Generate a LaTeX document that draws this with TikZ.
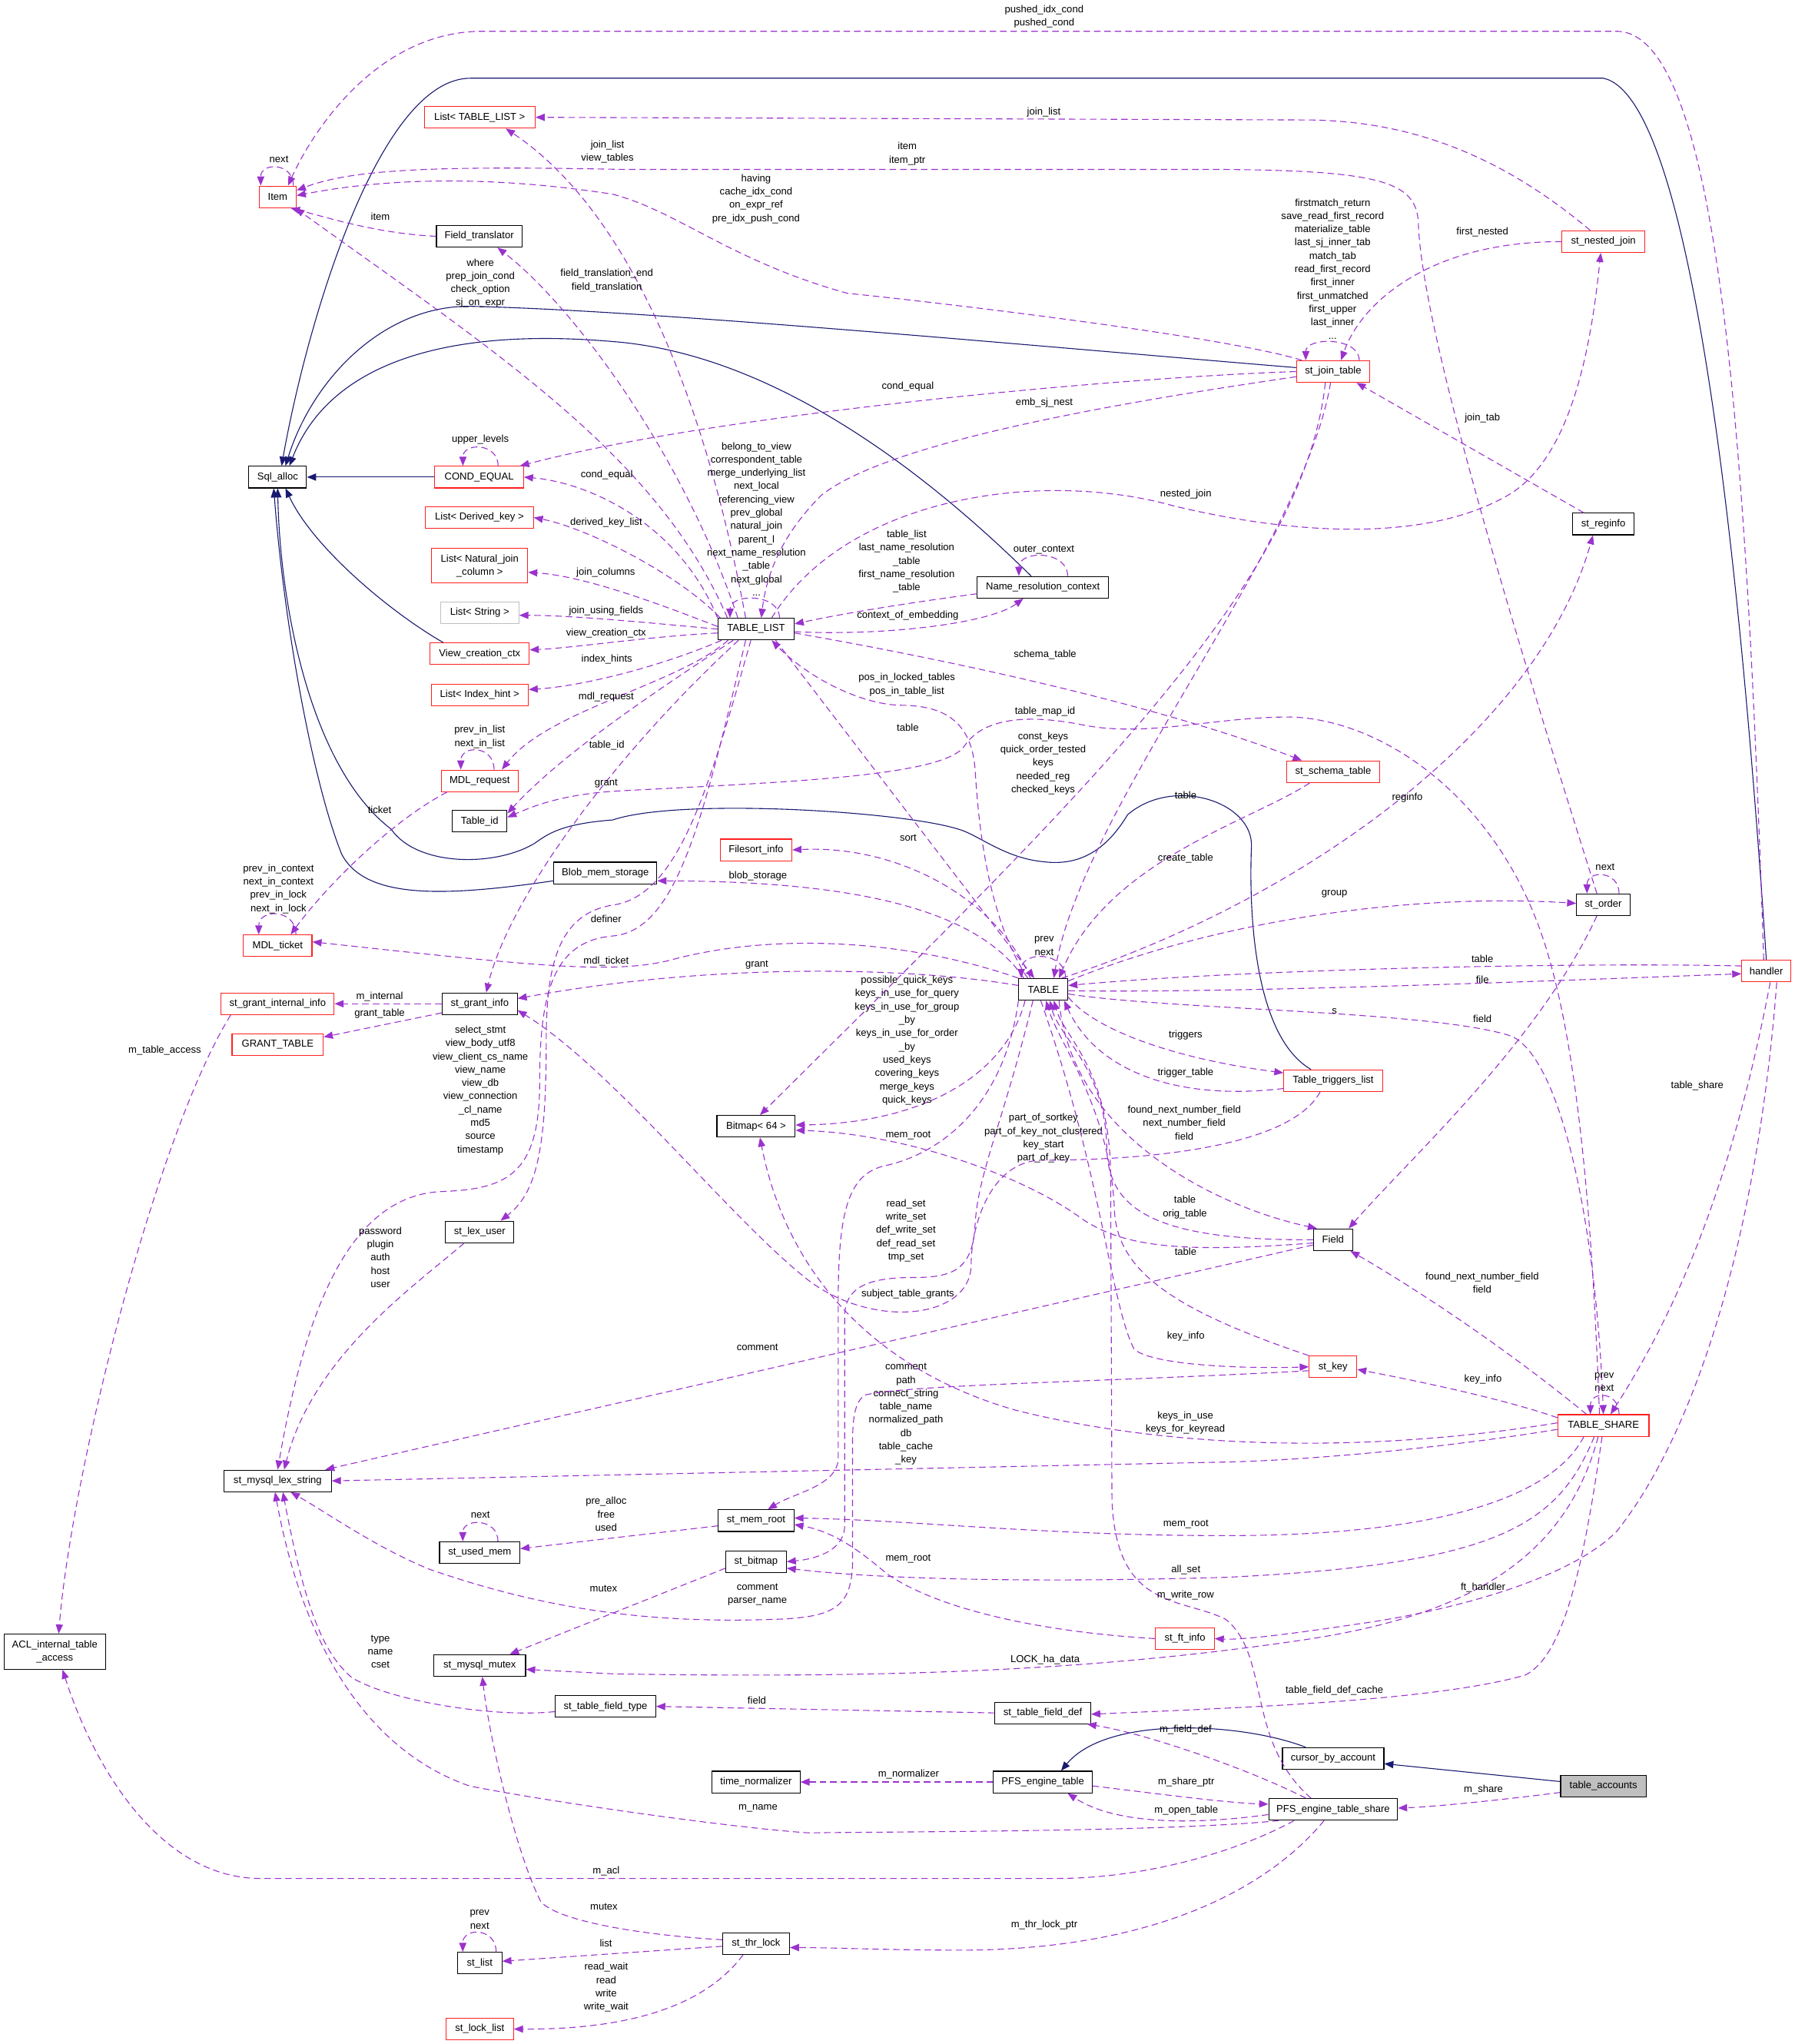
\documentclass[tikz,border=0pt]{standalone}
\usepackage{fontspec}
\setmainfont{Liberation Sans}
\usepackage{tikz}
\usetikzlibrary{arrows.meta}
\definecolor{docpurple}{HTML}{9A32CD}
\definecolor{docnavy}{HTML}{191970}
\definecolor{docred}{HTML}{FF2020}
\definecolor{docgray}{HTML}{BFBFBF}
\newcommand\dgfont{\fontsize{7.7}{10.2}\selectfont}

\begin{document}
\begin{tikzpicture}[
    x=1pt, y=-1pt,
    cls/.style={draw=black, line width=0.65pt, fill=white, font=\dgfont, inner sep=0pt, minimum height=16.6pt, align=center},
    clsred/.style={cls, draw=docred},
    clsgray/.style={cls, draw=docgray},
    clscur/.style={cls, fill=docgray},
    usage/.style={draw=docpurple, line width=0.65pt, dash pattern=on 5pt off 3pt, -{Triangle[length=7pt,width=5.5pt]}},
    inh/.style={draw=docnavy, line width=0.65pt, -{Triangle[length=7pt,width=5.5pt]}},
    lbl/.style={font=\dgfont, align=center, inner sep=0pt}
]
\useasboundingbox (0,0) rectangle (1377,1568);

% classes
\node[clsred, minimum width=28.5pt] (item) at (213,151) {Item};
\node[clsred, minimum width=85pt] (listtl) at (368,90) {List< TABLE\_LIST >};
\node[cls, minimum width=65.6pt] (ftrans) at (367.6,181.3) {Field\_translator};
\node[cls, minimum width=44.3pt] (sqlalloc) at (213,366) {Sql\_alloc};
\node[clsred, minimum width=68pt] (condeq) at (367.6,366) {COND\_EQUAL};
\node[clsred, minimum width=82.7pt] (listdk) at (367.8,397) {List< Derived\_key >};
\node[clsred, minimum width=73.6pt, minimum height=26.6pt] (listnjc) at (368,434) {List< Natural\_join\\\_column >};
\node[clsgray, minimum width=60pt] (liststr) at (368,470) {List< String >};
\node[clsred, minimum width=76pt] (vcc) at (368,501.5) {View\_creation\_ctx};
\node[clsred, minimum width=74.4pt] (listih) at (368,533) {List< Index\_hint >};
\node[clsred, minimum width=58.7pt] (mdlreq) at (368,599) {MDL\_request};
\node[cls, minimum width=41.8pt] (tableid) at (368,630) {Table\_id};
\node[cls, minimum width=79pt] (blob) at (464.4,669.7) {Blob\_mem\_storage};
\node[clsred, minimum width=52.7pt] (mdlticket) at (213,725.5) {MDL\_ticket};
\node[clsred, minimum width=86.6pt] (grantint) at (213,770) {st\_grant\_internal\_info};
\node[cls, minimum width=57.5pt] (grantinfo) at (368,770) {st\_grant\_info};
\node[clsred, minimum width=70pt] (granttab) at (213,801.5) {GRANT\_TABLE};
\node[cls, minimum width=52.6pt] (lexuser) at (368,945) {st\_lex\_user};
\node[cls, minimum width=82.4pt] (lexstr) at (213,1136) {st\_mysql\_lex\_string};
\node[cls, minimum width=61.6pt] (usedmem) at (368,1191) {st\_used\_mem};
\node[cls, minimum width=78pt, minimum height=27pt] (acl) at (42,1267) {ACL\_internal\_table\\\_access};
\node[cls, minimum width=70.4pt] (mutex) at (368,1277.6) {st\_mysql\_mutex};
\node[cls, minimum width=77pt] (fieldtype) at (464.5,1309) {st\_table\_field\_type};
\node[cls, minimum width=34pt] (stlist) at (368,1506) {st\_list};
\node[clsred, minimum width=51.8pt] (locklist) at (368,1556.5) {st\_lock\_list};
\node[clsred, minimum width=45pt] (ftinfo) at (909,1257) {st\_ft\_info};
\node[cls, minimum width=73.4pt] (fielddef) at (800,1314) {st\_table\_field\_def};
\node[cls, minimum width=67.4pt] (timenorm) at (580,1367) {time\_normalizer};
\node[cls, minimum width=75.8pt] (pfstable) at (800,1367) {PFS\_engine\_table};
\node[cls, minimum width=51.2pt] (thrlock) at (580,1491) {st\_thr\_lock};
\node[cls, minimum width=77.8pt] (cursor) at (1022.7,1349) {cursor\_by\_account};
\node[clscur, minimum width=65.6pt] (accounts) at (1230,1370) {table\_accounts};
\node[cls, minimum width=98.8pt] (pfsshare) at (1022.7,1388) {PFS\_engine\_table\_share};
\node[cls, minimum width=60pt] (bitmap) at (580,864) {Bitmap< 64 >};
\node[cls, minimum width=58pt] (memroot) at (580,1166.5) {st\_mem\_root};
\node[cls, minimum width=46.4pt] (stbitmap) at (580,1198) {st\_bitmap};
\node[cls, minimum width=58.4pt] (tablelist) at (580,482.6) {TABLE\_LIST};
\node[cls, minimum width=100.5pt] (nrc) at (800,450.5) {Name\_resolution\_context};
\node[clsred, minimum width=55pt] (filesort) at (580,652) {Filesort\_info};
\node[cls, minimum width=37.6pt] (table) at (800.4,759) {TABLE};
\node[clsred, minimum width=63.4pt] (nested) at (1230,185.4) {st\_nested\_join};
\node[clsred, minimum width=56.2pt] (jointab) at (1022.7,285) {st\_join\_table};
\node[cls, minimum width=46.8pt] (reginfo) at (1230,402) {st\_reginfo};
\node[clsred, minimum width=71.6pt] (schema) at (1022.7,592) {st\_schema\_table};
\node[cls, minimum width=41pt] (order) at (1230,694) {st\_order};
\node[clsred, minimum width=37.7pt] (handler) at (1355,745) {handler};
\node[clsred, minimum width=75.6pt] (triggers) at (1022.7,829) {Table\_triggers\_list};
\node[cls, minimum width=30pt] (field) at (1022.6,951) {Field};
\node[clsred, minimum width=36.5pt] (key) at (1022.6,1048.5) {st\_key};
\node[clsred, minimum width=70pt] (share) at (1230,1093.5) {TABLE\_SHARE};

% inheritance
\draw[inh] (condeq) -- (sqlalloc);
\draw[inh] (handler.north) .. controls (1336,450) and (1300,75) .. (1230,60) -- (361,60) .. controls (290,60) and (235,250) .. ([xshift=3pt]sqlalloc.north);
\draw[inh] ([yshift=3pt]jointab.west) .. controls (800,266) and (500,238) .. (361,235) .. controls (295,234) and (240,290) .. ([xshift=6pt]sqlalloc.north);
\draw[inh] ([xshift=-9pt]nrc.north) .. controls (720,372) and (600,272) .. (470,262) .. controls (330,250) and (250,285) .. ([xshift=9pt]sqlalloc.north);
\draw[inh] ([xshift=-28pt]vcc.north) .. controls (300,470) and (240,420) .. ([xshift=6pt]sqlalloc.south);
\draw[inh] ([xshift=-17pt]triggers.north) .. controls (962,795) and (958,700) .. (960,650) .. controls (962,615) and (900,595) .. (865,625) .. controls (850,650) and (830,665) .. (800,661) .. controls (770,658) and (750,640) .. (735,636) .. controls (690,622) and (520,612) .. (470,629) .. controls (430,632) and (420,640) .. (410,647) .. controls (380,665) and (320,665) .. (300,636) .. controls (240,590) and (215,470) .. (sqlalloc.south);
\draw[inh] ([yshift=-6pt]blob.west) .. controls (340,688) and (280,690) .. (262,655) .. controls (240,600) and (218,480) .. ([xshift=-3pt]sqlalloc.south);
\draw[inh] ([xshift=-21pt]cursor.north) .. controls (955,1322) and (850,1315) .. ([xshift=14pt]pfstable.north);
\draw[inh] (accounts) -- (cursor);

% Item
\draw[usage] ([xshift=12pt]item.north) .. controls +(0,-18) and +(0,-18) .. ([xshift=-13pt]item.north) node[lbl] (lnext1) at (214,122.4) {next};
\draw[usage] ([xshift=-2pt]handler.north) .. controls (1340,350) and (1320,24) .. (1240,24) -- (370,24) .. controls (290,24) and (240,100) .. ([xshift=8pt]item.north) node[lbl] (lpushed) at (801,12.6) {pushed\_idx\_cond\\pushed\_cond};
\draw[usage] ([xshift=-5pt]order.north) .. controls (1160,480) and (1090,250) .. (1088,170) .. controls (1086,140) and (1060,131) .. (940,130) -- (480,130) .. controls (330,127) and (270,130) .. ([yshift=5pt]item.east) node[lbl] (litem1) at (696,117.9) {item\\item\_ptr};
\draw[usage] ([xshift=-24pt]jointab.north) .. controls (940,258) and (720,232) .. (650,225) .. controls (560,200) and (520,162) .. (470,149) .. controls (380,135) and (300,136) .. ([yshift=1pt]item.east) node[lbl] (lhaving) at (580,152.6) {having\\cache\_idx\_cond\\on\_expr\_ref\\pre\_idx\_push\_cond};
\draw[usage] (ftrans.west) .. controls (290,179) and (255,168) .. ([xshift=10pt]item.south) node[lbl] (litem2) at (291.8,166.3) {item};
\draw[usage] ([xshift=-22pt]tablelist.north) .. controls (505,350) and (380,270) .. ([xshift=-1pt]item.south east) node[lbl] (lwhere) at (368.5,217.3) {where\\prep\_join\_cond\\check\_option\\sj\_on\_expr};

% List< TABLE_LIST >, Field_translator
\draw[usage] ([xshift=-10pt]nested.north) .. controls (1150,118) and (1080,92) .. (1000,92) -- (listtl.east) node[lbl] (ljoinlist1) at (800.8,86.3) {join\_list};
\draw[usage] ([xshift=-8pt]tablelist.north) .. controls (540,300) and (480,160) .. ([xshift=20pt]listtl.south) node[lbl] (ljoinlist2) at (466,116.5) {join\_list\\view\_tables};
\draw[usage] ([xshift=-14pt]tablelist.north) .. controls (525,350) and (440,235) .. ([xshift=14pt]ftrans.south) node[lbl] (lftrans) at (465.5,215.2) {field\_translation\_end\\field\_translation};

% COND_EQUAL
\draw[usage] ([xshift=14.5pt]condeq.north) .. controls +(0,-18) and +(0,-18) .. ([xshift=-12.5pt]condeq.north) node[lbl] (lupper) at (368.5,337.4) {upper\_levels};
\draw[usage] (jointab.west) .. controls (850,290) and (550,318) .. ([xshift=-3pt]condeq.north east) node[lbl] (lcondeq1) at (696.4,296.6) {cond\_equal};
\draw[usage] (tablelist.north west) .. controls (520,400) and (450,370) .. (condeq.east) node[lbl] (lcondeq2) at (465.5,364.5) {cond\_equal};

% TABLE_LIST to the left column
\draw[usage] ([xshift=2pt]tablelist.north west) .. controls (520,440) and (450,405) .. (listdk.east) node[lbl] (ldk) at (465,401) {derived\_key\_list};
\draw[usage] ([yshift=2pt]tablelist.west) .. controls (510,465) and (450,442) .. ([yshift=-5pt]listnjc.east) node[lbl] (lnjc) at (464.7,439) {join\_columns};
\draw[usage] (tablelist.west) .. controls (500,478) and (440,472) .. ([yshift=-2pt]liststr.east) node[lbl] (lstr) at (465,468.5) {join\_using\_fields};
\draw[usage] ([yshift=-3pt]tablelist.west) .. controls (500,488) and (440,497) .. ([yshift=3pt]vcc.east) node[lbl] (lvcc) at (465,485.6) {view\_creation\_ctx};
\draw[usage] ([xshift=3pt]tablelist.south west) .. controls (510,510) and (450,526) .. ([yshift=4pt]listih.east) node[lbl] (lih) at (465.5,506) {index\_hints};
\draw[usage] ([xshift=8pt]tablelist.south west) .. controls (520,525) and (420,545) .. ([xshift=17pt]mdlreq.north) node[lbl] (lmdlreq) at (465,534.5) {mdl\_request};
\draw[usage] ([xshift=12pt]tablelist.south west) .. controls (480,545) and (425,585) .. ([yshift=6pt]tableid.east) node[lbl] (ltid) at (465.5,572) {table\_id};
\draw[usage] ([xshift=16pt]tablelist.south west) .. controls (470,580) and (390,690) .. ([xshift=5pt]grantinfo.north) node[lbl] (lgrant1) at (465,601) {grant};

% MDL
\draw[usage] ([xshift=11pt]mdlreq.north) .. controls +(0,-19) and +(0,-19) .. ([xshift=-14.5pt]mdlreq.north) node[lbl] (lprevlist) at (368,565.3) {prev\_in\_list\\next\_in\_list};
\draw[usage] ([xshift=-25pt]mdlreq.south) .. controls (300,630) and (250,680) .. ([xshift=10pt]mdlticket.north) node[lbl] (lticket) at (291.2,621.4) {ticket};
\draw[usage] ([xshift=14pt]mdlticket.north) .. controls +(0,-20) and +(0,-20) .. ([xshift=-14.5pt]mdlticket.north) node[lbl] (lctx) at (213.6,681.8) {prev\_in\_context\\next\_in\_context\\prev\_in\_lock\\next\_in\_lock};
\draw[usage] (table.north west) .. controls (700,722) and (600,715) .. (520,735) .. controls (475,748) and (420,742) .. ([yshift=3pt]mdlticket.east) node[lbl] (lmdlticket) at (465,737.2) {mdl\_ticket};

% grant info
\draw[usage] ([yshift=3pt]table.west) .. controls (700,742) and (550,738) .. ([yshift=4pt]grantinfo.east) node[lbl] (lgrant2) at (580.6,740.3) {grant};
\draw[usage] (grantinfo.west) -- (grantint.east) node[lbl] (lminternal) at (291.2,764.3) {m\_internal};
\draw[usage] ([yshift=-7pt]grantinfo.west) -- ([yshift=6pt]granttab.east) node[lbl] (lgranttab) at (291.2,777.7) {grant\_table};
\draw[usage] ([xshift=-36pt]grantint.south) .. controls (120,870) and (55,1130) .. ([xshift=3pt]acl.north) node[lbl] (lmtable) at (126.4,806.1) {m\_table\_access};
\draw[usage] ([xshift=-10pt]triggers.south) .. controls (990,880) and (880,890) .. (800,890) .. controls (760,890) and (745,940) .. (745,970) .. controls (745,1012) and (670,1020) .. (620,982) .. controls (560,935) and (470,820) .. ([yshift=-5pt]grantinfo.east) node[lbl] (lsubj) at (696.4,992.6) {subject\_table\_grants};

% lex strings
\draw[usage] ([xshift=-4pt]tablelist.south) .. controls (545,600) and (522,685) .. (472,694) .. controls (428,700) and (419,740) .. (419,800) .. controls (419,880) and (412,915) .. ([xshift=16pt]lexuser.north) node[lbl] (ldefiner) at (465,704.8) {definer};
\draw[usage] ([xshift=-8pt]tablelist.south) .. controls (540,625) and (520,714) .. (470,718) .. controls (425,722) and (414,760) .. (414,830) .. controls (414,900) and (390,912) .. (340,914) .. controls (270,916) and (235,1000) .. (lexstr.north) node[lbl] (lselect) at (368.5,836.4) {select\_stmt\\view\_body\_utf8\\view\_client\_cs\_name\\view\_name\\view\_db\\view\_connection\\\_cl\_name\\md5\\source\\timestamp};
\draw[usage] ([xshift=-12pt]lexuser.south) .. controls (320,985) and (240,1040) .. ([xshift=5pt]lexstr.north) node[lbl] (lpassword) at (291.8,964.4) {password\\plugin\\auth\\host\\user};
\draw[usage] ([yshift=-4pt]field.west) -- ([xshift=-5pt]lexstr.north east) node[lbl] (lcomment1) at (581,1033.4) {comment};
\draw[usage] ([yshift=-3pt]share.west) .. controls (1100,1112) and (1000,1120) .. (943,1121.5) -- (lexstr.east) node[lbl] (lcomment2) at (695,1084.9) {comment\\path\\connect\_string\\table\_name\\normalized\_path\\db\\table\_cache\\\_key};
\draw[usage] ([yshift=-3pt]key.west) .. controls (850,1060) and (700,1062) .. (664,1070) .. controls (655,1075) and (654,1090) .. (654,1110) -- (654,1200) .. controls (653,1232) and (640,1240) .. (600,1242) .. controls (500,1246) and (420,1235) .. (330,1204) .. controls (290,1188) and (250,1160) .. ([xshift=10pt]lexstr.south) node[lbl] (lparser) at (581,1223.4) {comment\\parser\_name};
\draw[usage] ([yshift=-4pt]fieldtype.west) .. controls (380,1318) and (300,1305) .. (270,1287) .. controls (250,1270) and (235,1240) .. ([xshift=4pt]lexstr.south) node[lbl] (ltype) at (291.8,1267) {type\\name\\cset};
\draw[usage] ([xshift=8pt]pfsshare.south west) .. controls (900,1405) and (700,1405) .. (620,1406) .. controls (560,1402) and (420,1382) .. (360,1370) .. controls (280,1342) and (232,1260) .. ([xshift=-2pt]lexstr.south) node[lbl] (lmname) at (581.5,1387.3) {m\_name};

% memory
\draw[usage] ([xshift=14pt]usedmem.north) .. controls +(0,-18) and +(0,-18) .. ([xshift=-13pt]usedmem.north) node[lbl] (lnext2) at (368.5,1162.3) {next};
\draw[usage] ([yshift=-4pt]memroot.west) -- ([yshift=3pt]usedmem.east) node[lbl] (lprealloc) at (465,1161.6) {pre\_alloc\\free\\used};
\draw[usage] (table.south west) .. controls (770,850) and (720,885) .. (680,894) .. controls (650,900) and (643,930) .. (643,1000) -- (643,1120) .. controls (641,1140) and (610,1145) .. ([xshift=9pt]memroot.north) node[lbl] (lmemroot1) at (696.7,870.8) {mem\_root};
\draw[usage] ([xshift=-15pt]share.south) .. controls (1190,1150) and (1100,1178) .. (940,1178) .. controls (800,1178) and (700,1166) .. ([yshift=2pt]memroot.east) node[lbl] (lmemroot2) at (909.7,1169.4) {mem\_root};
\draw[usage] (ftinfo.west) .. controls (800,1252) and (720,1235) .. (680,1207) .. controls (660,1190) and (640,1175) .. ([yshift=-3pt]memroot.east) node[lbl] (lmemroot3) at (696.7,1196) {mem\_root};
\draw[usage] ([xshift=-8pt]table.south) .. controls (770,860) and (750,900) .. (748,940) .. controls (746,975) and (730,980) .. (700,980) .. controls (665,980) and (648,988) .. (648,1010) -- (648,1170) .. controls (648,1190) and (625,1196) .. (stbitmap.east) node[lbl] (lreadset) at (695,944.1) {read\_set\\write\_set\\def\_write\_set\\def\_read\_set\\tmp\_set};
\draw[usage] ([xshift=-7pt]share.south) .. controls (1195,1170) and (1150,1200) .. (940,1210) .. controls (800,1214) and (680,1212) .. ([yshift=-5pt]stbitmap.east) node[lbl] (lallset) at (909.7,1204.4) {all\_set};

% mutex and locks
\draw[usage] ([yshift=-5pt]stbitmap.west) -- ([xshift=23pt]mutex.north) node[lbl] (lmutex1) at (463,1218.4) {mutex};
\draw[usage] ([xshift=-4pt]share.south) .. controls (1200,1200) and (1120,1240) .. (1000,1258) .. controls (850,1280) and (700,1288) .. (470,1284) -- ([yshift=-3pt]mutex.east) node[lbl] (llock) at (801.7,1273.1) {LOCK\_ha\_data};
\draw[usage] ([yshift=3pt]thrlock.west) .. controls (500,1485) and (430,1475) .. (415,1459) .. controls (395,1420) and (375,1330) .. ([xshift=2pt]mutex.south) node[lbl] (lmutex2) at (463.3,1462.6) {mutex};
\draw[usage] (fielddef.west) -- (fieldtype.east) node[lbl] (lfield1) at (580.6,1304.5) {field};
\draw[usage] (pfstable.west) -- (timenorm.east) node[lbl] (lnorm) at (697,1361) {m\_normalizer};
\draw[usage] ([xshift=12.6pt]stlist.north) .. controls +(0,-19) and +(0,-19) .. ([xshift=-13pt]stlist.north) node[lbl] (lprev1) at (368,1472.5) {prev\\next};
\draw[usage] ([yshift=-2pt]thrlock.west) -- ([yshift=1.5pt]stlist.east) node[lbl] (llist) at (464.8,1490.4) {list};
\draw[usage] ([xshift=-10pt]thrlock.south) .. controls (540,1540) and (480,1557) .. (locklist.east) node[lbl] (lwait) at (465,1524.6) {read\_wait\\read\\write\\write\_wait};

% Bitmap< 64 >, Filesort_info, Blob_mem_storage
\draw[usage] ([xshift=-14pt]table.south) .. controls (770,830) and (700,862) .. ([yshift=1pt]bitmap.east) node[lbl] (lquick) at (695.8,798.2) {possible\_quick\_keys\\keys\_in\_use\_for\_query\\keys\_in\_use\_for\_group\\\_by\\keys\_in\_use\_for\_order\\\_by\\used\_keys\\covering\_keys\\merge\_keys\\quick\_keys};
\draw[usage] ([yshift=-2.5pt]field.west) .. controls (900,962) and (860,955) .. (830,935) .. controls (790,905) and (700,870) .. ([yshift=-3pt]bitmap.east) node[lbl] (lpartkey) at (800.5,873.2) {part\_of\_sortkey\\part\_of\_key\_not\_clustered\\key\_start\\part\_of\_key};
\draw[usage] ([yshift=2pt]share.west) .. controls (1050,1115) and (900,1112) .. (780,1082) .. controls (680,1054) and (605,985) .. ([xshift=3pt]bitmap.south) node[lbl] (lkeysinuse) at (909.3,1091.3) {keys\_in\_use\\keys\_for\_keyread};
\draw[usage] ([xshift=-6pt]jointab.south) .. controls (1000,450) and (820,620) .. ([xshift=3pt]bitmap.north) node[lbl] (lconst) at (800.2,585.6) {const\_keys\\quick\_order\_tested\\keys\\needed\_reg\\checked\_keys};
\draw[usage] ([xshift=-10pt]table.north) .. controls (765,690) and (690,648) .. (filesort.east) node[lbl] (lsort) at (696.7,643) {sort};
\draw[usage] ([xshift=-15pt]table.north) .. controls (745,690) and (630,676) .. ([yshift=-6pt]blob.east) node[lbl] (lblob) at (581.5,671.9) {blob\_storage};

% TABLE_LIST
\draw[usage] ([xshift=18pt]tablelist.north) .. controls +(0,-19) and +(0,-19) .. ([xshift=-20pt]tablelist.north) node[lbl] (lbelong) at (580.3,398.2) {belong\_to\_view\\correspondent\_table\\merge\_underlying\_list\\next\_local\\referencing\_view\\prev\_global\\natural\_join\\parent\_l\\next\_name\_resolution\\\_table\\next\_global\\...};
\draw[usage] ([yshift=-4pt]jointab.west) .. controls (850,310) and (680,340) .. (630,380) .. controls (600,410) and (588,440) .. ([xshift=4pt]tablelist.north) node[lbl] (lembsj) at (801.1,309.2) {emb\_sj\_nest};
\draw[usage] ([yshift=-5pt]nrc.west) .. controls (700,462) and (650,470) .. ([yshift=4pt]tablelist.east) node[lbl] (ltlist) at (695.5,430.7) {table\_list\\last\_name\_resolution\\\_table\\first\_name\_resolution\\\_table};
\draw[usage] ([yshift=-2pt]tablelist.east) .. controls (680,488) and (760,478) .. ([xshift=-15pt]nrc.south) node[lbl] (lctxemb) at (696.4,472) {context\_of\_embedding};
\draw[usage] ([xshift=19pt]nrc.north) .. controls +(0,-20) and +(0,-20) .. ([xshift=-18.4pt]nrc.north) node[lbl] (louter) at (800.8,422) {outer\_context};
\draw[usage] ([xshift=-12pt]table.north) .. controls (755,700) and (750,620) .. (748,590) .. controls (745,550) and (720,541) .. (690,541) .. controls (660,540) and (620,520) .. ([xshift=12pt]tablelist.south) node[lbl] (lposin) at (695.7,525.2) {pos\_in\_locked\_tables\\pos\_in\_table\_list};
\draw[usage] ([xshift=15pt]tablelist.south) -- ([xshift=-7pt]table.north) node[lbl] (ltable1) at (696.4,558.2) {table};
\draw[usage] ([xshift=12pt]tablelist.north) .. controls (650,380) and (800,360) .. (900,388) .. controls (1000,412) and (1100,415) .. (1160,378) .. controls (1210,345) and (1222,250) .. ([xshift=-2pt]nested.south) node[lbl] (lnested) at (909.7,379.2) {nested\_join};
\draw[usage] ([yshift=-3pt]tablelist.east) .. controls (750,510) and (900,545) .. ([xshift=-24pt]schema.north) node[lbl] (lschema) at (801.7,502.4) {schema\_table};

% TABLE
\draw[usage] ([xshift=17pt]table.north) .. controls +(0,-21) and +(0,-21) .. ([xshift=-17pt]table.north) node[lbl] (lprev2) at (801,725.6) {prev\\next};
\draw[usage] ([xshift=-2pt]jointab.south) .. controls (1000,420) and (830,620) .. ([xshift=8pt]table.north) node[lbl] (ltable2) at (909.5,610) {table};
\draw[usage] ([xshift=-18pt]schema.south) .. controls (960,630) and (850,660) .. ([xshift=12pt]table.north) node[lbl] (lcreate) at (909.5,658.2) {create\_table};
\draw[usage] ([xshift=14pt]table.north) .. controls (1000,690) and (1180,560) .. ([xshift=-8pt]reginfo.south) node[lbl] (lreginfo) at (1079.6,612.2) {reginfo};
\draw[usage] ([xshift=-15pt]reginfo.north) -- ([xshift=18pt]jointab.south) node[lbl] (ljointab) at (1137.2,321) {join\_tab};
\draw[usage] ([xshift=20pt]jointab.north) .. controls +(0,-18) and +(0,-18) .. ([xshift=-21pt]jointab.north) node[lbl] (lfirstmatch) at (1022.3,206.2) {firstmatch\_return\\save\_read\_first\_record\\materialize\_table\\last\_sj\_inner\_tab\\match\_tab\\read\_first\_record\\first\_inner\\first\_unmatched\\first\_upper\\last\_inner\\...};
\draw[usage] (nested.west) .. controls (1100,185) and (1045,230) .. ([xshift=6pt]jointab.north) node[lbl] (lfirstnested) at (1137.2,178.2) {first\_nested};

% st_order, handler, triggers
\draw[usage] ([yshift=6.5pt]table.east) .. controls (950,700) and (1100,686) .. ([yshift=1pt]order.west) node[lbl] (lgroup) at (1023.7,685.6) {group};
\draw[usage] ([xshift=12pt]order.north) .. controls +(0,-18) and +(0,-18) .. ([xshift=-12.6pt]order.north) node[lbl] (lnext3) at (1231.3,665.3) {next};
\draw[usage] ([xshift=-5pt]order.south) .. controls (1180,800) and (1080,890) .. ([xshift=12pt]field.north) node[lbl] (lfield2) at (1137.2,781.6) {field};
\draw[usage] ([yshift=4pt]handler.west) .. controls (1200,738) and (950,744) .. ([yshift=3pt]table.east) node[lbl] (ltable3) at (1137.2,735.4) {table};
\draw[usage] ([yshift=-1pt]table.east) .. controls (950,762) and (1200,752) .. ([yshift=-2pt]handler.west) node[lbl] (lfile) at (1137.2,751.6) {file};
\draw[usage] ([xshift=3pt]handler.south) .. controls (1330,900) and (1290,1000) .. ([xshift=5.5pt]share.north) node[lbl] (ltshare) at (1302,832.9) {table\_share};
\draw[usage] ([xshift=8pt]handler.south) .. controls (1348,950) and (1300,1100) .. (1240,1175) .. controls (1200,1215) and (1100,1238) .. (1040,1246) .. controls (980,1255) and (950,1258) .. (ftinfo.east) node[lbl] (lfthandler) at (1137.7,1218.1) {ft\_handler};
\draw[usage] ([yshift=-6pt]table.east) .. controls (840,790) and (900,812) .. ([yshift=6pt]triggers.west) node[lbl] (ltriggers) at (909.5,794.3) {triggers};
\draw[usage] ([yshift=-6pt]triggers.west) .. controls (900,845) and (840,820) .. ([xshift=16pt]table.south) node[lbl] (ltrigtable) at (909.5,823) {trigger\_table};

% Field, st_key, TABLE_SHARE
\draw[usage] ([xshift=12pt]table.south) .. controls (822,870) and (930,925) .. ([xshift=3pt]field.north west) node[lbl] (lfnnf) at (908.5,861.4) {found\_next\_number\_field\\next\_number\_field\\field};
\draw[usage] (field.west) .. controls (880,952) and (850,925) .. (849,880) .. controls (848,820) and (812,795) .. ([xshift=5pt]table.south) node[lbl] (lorigtable) at (909,926.2) {table\\orig\_table};
\draw[usage] (key.north west) .. controls (900,1005) and (858,975) .. (855,930) .. controls (852,850) and (812,800) .. ([xshift=2pt]table.south) node[lbl] (ltable4) at (909.5,960) {table};
\draw[usage] ([xshift=-2pt]table.south) .. controls (845,900) and (852,1000) .. (870,1035) .. controls (885,1048) and (960,1050) .. (key.west) node[lbl] (lkeyinfo1) at (909.7,1025) {key\_info};
\draw[usage] ([yshift=-3.5pt]table.east) .. controls (900,775) and (1100,775) .. (1160,795) .. controls (1200,815) and (1225,950) .. (share.north) node[lbl] (ls) at (1023.7,775.8) {s};
\draw[usage] ([xshift=-13pt]share.north) .. controls (1150,1030) and (1080,985) .. ([xshift=-2pt]field.south east) node[lbl] (lfnnf2) at (1137,984.2) {found\_next\_number\_field\\field};
\draw[usage] ([yshift=6pt]share.west) .. controls (1150,1072) and (1080,1058) .. ([yshift=-2pt]key.east) node[lbl] (lkeyinfo2) at (1137.7,1058.4) {key\_info};
\draw[usage] ([xshift=12pt]share.north) .. controls +(0,-18) and +(0,-18) .. ([xshift=-10pt]share.north) node[lbl] (lprev3) at (1230.7,1060) {prev\\next};
\draw[usage] ([xshift=-3pt]share.north) .. controls (1222,950) and (1212,800) .. (1182,715) .. controls (1145,610) and (1060,552) .. (990,550) .. controls (930,550) and (880,566) .. (830,556) .. controls (790,548) and (755,550) .. (740,572) .. controls (725,596) and (600,600) .. (470,607) .. controls (430,610) and (410,618) .. ([yshift=3pt]tableid.east) node[lbl] (lmapid) at (801.7,546) {table\_map\_id};
\draw[usage] ([xshift=-1pt]share.south) .. controls (1215,1200) and (1200,1270) .. (1170,1285) .. controls (1100,1305) and (950,1310) .. ([yshift=-1pt]fielddef.east) node[lbl] (lfdcache) at (1023.7,1296.7) {table\_field\_def\_cache};

% performance schema
\draw[usage] ([xshift=-21pt]pfsshare.north) .. controls (960,1358) and (880,1330) .. ([xshift=-3pt]fielddef.south east) node[lbl] (lmfielddef) at (909.5,1327) {m\_field\_def};
\draw[usage] ([xshift=-17pt]pfsshare.north) .. controls (955,1335) and (975,1270) .. (940,1242) .. controls (905,1225) and (856,1235) .. (853,1150) -- (852,900) .. controls (851,820) and (816,795) .. ([xshift=8pt]table.south) node[lbl] (lwriterow) at (909.5,1223.7) {m\_write\_row};
\draw[usage] ([yshift=-3pt]pfstable.east) .. controls (880,1375) and (940,1383) .. ([yshift=4pt]pfsshare.west) node[lbl] (lshareptr) at (910,1367.1) {m\_share\_ptr};
\draw[usage] ([yshift=-4pt]pfsshare.west) .. controls (900,1402) and (850,1396) .. ([xshift=19pt]pfstable.south) node[lbl] (lopentable) at (910,1389) {m\_open\_table};
\draw[usage] ([yshift=-5pt]accounts.west) .. controls (1150,1381) and (1100,1386) .. ([yshift=1pt]pfsshare.east) node[lbl] (lmshare) at (1138,1372.9) {m\_share};
\draw[usage] ([xshift=-7pt]pfsshare.south) .. controls (980,1440) and (900,1495) .. (740,1496) .. controls (680,1496) and (640,1494) .. ([yshift=-3pt]thrlock.east) node[lbl] (lthrlock) at (801.1,1476.7) {m\_thr\_lock\_ptr};
\draw[usage] ([xshift=-30pt]pfsshare.south) .. controls (950,1420) and (880,1441) .. (810,1441) -- (200,1441) .. controls (120,1441) and (70,1350) .. ([xshift=6pt]acl.south) node[lbl] (lmacl) at (465,1435.5) {m\_acl};
\end{tikzpicture}
\end{document}
